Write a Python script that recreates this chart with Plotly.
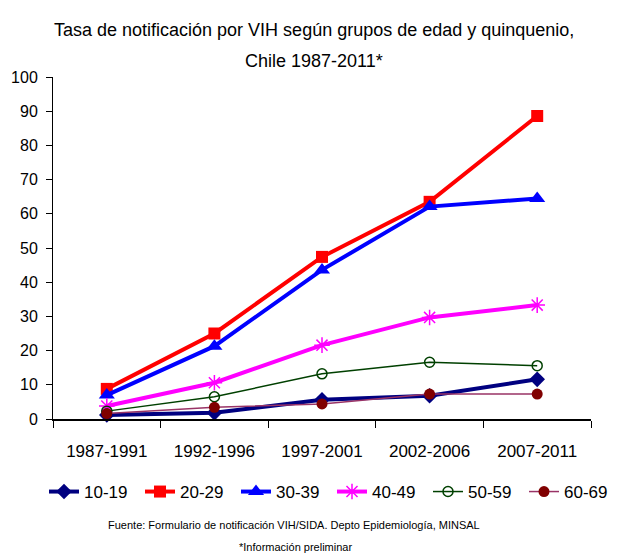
import plotly.graph_objects as go

# Five-year periods and HIV notification rates per age group
periods = ["1987-1991", "1992-1996", "1997-2001", "2002-2006", "2007-2011"]
age_10_19 = [1.2, 1.8, 5.6, 6.8, 11.6]
age_20_29 = [8.8, 25.0, 47.4, 63.5, 88.6]
age_30_39 = [7.0, 21.3, 43.6, 62.1, 64.5]
age_40_49 = [3.8, 10.6, 21.6, 29.7, 33.3]
age_50_59 = [2.3, 6.5, 13.2, 16.6, 15.6]
age_60_69 = [1.6, 3.4, 4.4, 7.3, 7.3]

FONT = "Liberation Sans, Arial, sans-serif"

W, H = 620, 553
L, R, T, B = 53, 29, 77, 134
PW, PH = W - L - R, H - T - B

series = [
    ("10-19", age_10_19, "#000080", 4, dict(symbol="diamond", size=12, color="#000080")),
    ("20-29", age_20_29, "#FF0000", 4, dict(symbol="square", size=12, color="#FF0000")),
    ("30-39", age_30_39, "#0000FF", 4, dict(symbol="triangle-up", size=14, color="#0000FF")),
    ("40-49", age_40_49, "#FF00FF", 4, dict(symbol="asterisk-open", size=13, color="#FF00FF",
                                           line=dict(color="#FF00FF", width=1.5))),
    ("50-59", age_50_59, "#004000", 1.5, dict(symbol="circle-open", size=10, color="#004000",
                                             line=dict(color="#004000", width=1.5))),
    ("60-69", age_60_69, "#993366", 1.5, dict(symbol="circle", size=11, color="#800000")),
]

fig = go.Figure()
for name, vals, col, lw, mk in series:
    fig.add_trace(go.Scatter(
        x=periods, y=vals, name=name, mode="lines+markers",
        line=dict(color=col, width=lw), marker=mk, cliponaxis=False,
    ))


def px_x(x):
    return (x - L) / PW


def px_y(y):
    return (H - B - y) / PH


texts = [
    ("Tasa de notificación por VIH según grupos de edad y quinquenio,", 314, 30, 18),
    ("Chile 1987-2011*", 314, 61, 18),
    ("Fuente: Formulario de notificación VIH/SIDA. Depto Epidemiología, MINSAL", 294, 525, 11),
    ("*Información preliminar", 295, 547, 11),
]
annotations = [
    dict(text=t, xref="paper", yref="paper", x=px_x(x), y=px_y(y),
         xanchor="center", yanchor="middle", showarrow=False,
         font=dict(size=s))
    for t, x, y, s in texts
]

fig.update_layout(
    width=W, height=H,
    margin=dict(l=L, r=R, t=T, b=B),
    paper_bgcolor="white", plot_bgcolor="white",
    font=dict(family=FONT, size=17, color="#000000"),
    xaxis=dict(
        type="category", range=[-0.5, 4.5], tickson="boundaries",
        showline=True, linecolor="#000000", linewidth=2,
        ticks="outside", ticklen=7, tickcolor="#000000", tickwidth=1,
        showgrid=False, zeroline=False,
        tickfont=dict(size=17), ticklabelstandoff=16,
    ),
    yaxis=dict(
        range=[0, 100], dtick=10,
        showline=True, linecolor="#000000", linewidth=1,
        ticks="outside", ticklen=6, tickcolor="#000000",
        showgrid=False, zeroline=False,
        tickfont=dict(size=16), ticklabelstandoff=5,
    ),
    # single-row legend anchored just left of the plot area so it may span the full width
    legend=dict(
        orientation="h", x=px_x(50), xanchor="left",
        y=px_y(492), yanchor="middle",
        font=dict(size=17), itemwidth=30,
        entrywidth=51, entrywidthmode="pixels",
    ),
    annotations=annotations,
)

fig.write_html("out.html")
